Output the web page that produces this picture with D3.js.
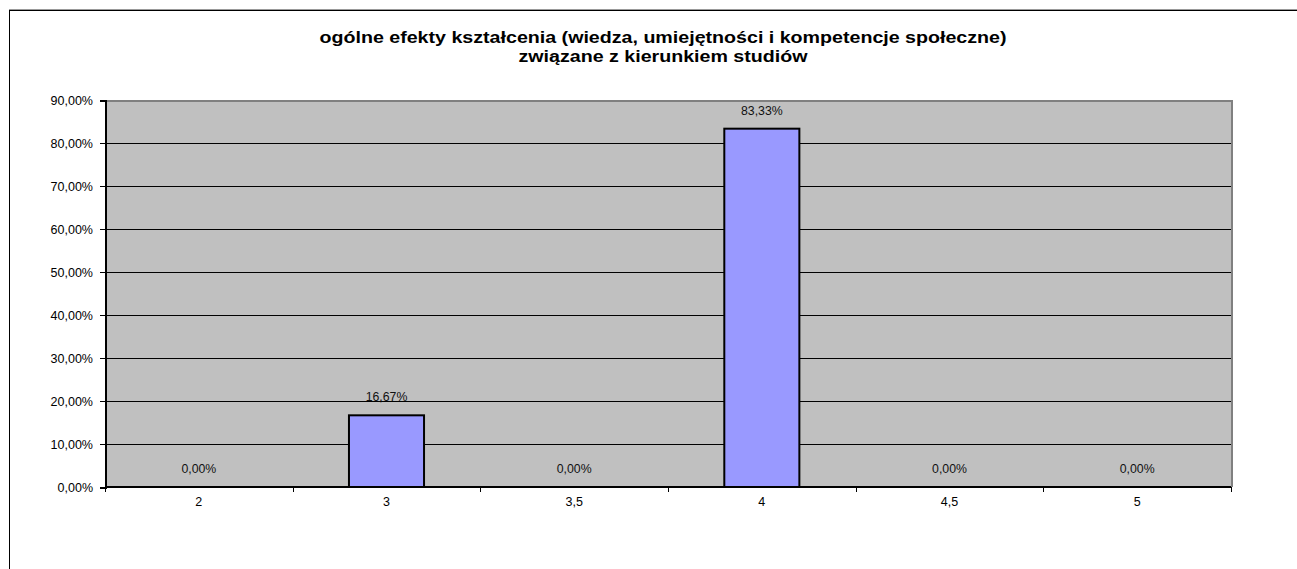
<!DOCTYPE html>
<html>
<head>
<meta charset="utf-8">
<script src="https://d3js.org/d3.v7.min.js"></script>
<style>
body { margin: 0; background: #fff; }
svg { display: block; font-family: "Liberation Sans", Arial, sans-serif; }
.axis text { font-size: 12.5px; fill: #000; }
.axis path, .axis line { stroke: #000; shape-rendering: crispEdges; }
</style>
</head>
<body>
<div id="chart"></div>
<script>
var categories = ["2", "3", "3,5", "4", "4,5", "5"];
var values = [0, 16.67, 0, 83.33, 0, 0];
var yTicks = [0, 10, 20, 30, 40, 50, 60, 70, 80, 90];
var titleLines = ["ogólne efekty kształcenia (wiedza, umiejętności i kompetencje społeczne)",
                  "związane z kierunkiem studiów"];

var width = 1297, height = 569,
    plotLeft = 105, plotRight = 1231, plotTop = 100, plotBottom = 487;

var fmt = function(v) { return v.toFixed(2).replace(".", ",") + "%"; };

var svg = d3.select("#chart").append("svg")
    .attr("width", width).attr("height", height);

// outer chart frame (only top and left edges are visible)
svg.append("path")
    .attr("d", "M9.5,569 V10.5 H1297")
    .attr("fill", "none").attr("stroke", "#000").attr("stroke-width", 1)
    .attr("shape-rendering", "crispEdges");
svg.append("line")
    .attr("x1", 9).attr("x2", 1297).attr("y1", 9.5).attr("y2", 9.5)
    .attr("stroke", "#999").attr("shape-rendering", "crispEdges");

var x = d3.scaleBand().domain(categories).range([plotLeft, plotRight]).paddingInner(0.6).paddingOuter(0.3);
var xb = d3.scaleBand().domain(categories).range([plotLeft, plotRight]);
var y = d3.scaleLinear().domain([0, 90]).range([plotBottom, plotTop]);

// plot area
svg.append("rect")
    .attr("x", plotLeft).attr("y", plotTop)
    .attr("width", plotRight - plotLeft).attr("height", plotBottom - plotTop)
    .attr("fill", "#c0c0c0");
svg.append("path")
    .attr("d", "M" + plotLeft + "," + (plotTop + 0.5) + " H" + (plotRight + 0.5) + " V" + plotBottom)
    .attr("fill", "none").attr("stroke", "#808080").attr("stroke-width", 2)
    .attr("shape-rendering", "crispEdges");

// gridlines
svg.append("g").selectAll("line")
    .data(yTicks.slice(1, -1))
    .join("line")
    .attr("x1", plotLeft).attr("x2", plotRight)
    .attr("y1", function(d) { return Math.round(y(d)) + 0.5; })
    .attr("y2", function(d) { return Math.round(y(d)) + 0.5; })
    .attr("stroke", "#000").attr("stroke-width", 1);

// bars
svg.append("g").selectAll("rect")
    .data(values)
    .join("rect")
    .attr("x", function(d, i) { return x(categories[i]); })
    .attr("width", x.bandwidth())
    .attr("y", function(d) { return y(d); })
    .attr("height", function(d) { return y(0) - y(d); })
    .attr("fill", "#9999ff")
    .attr("stroke", "#000").attr("stroke-width", 2)
    .attr("visibility", function(d) { return d > 0 ? "visible" : "hidden"; });

// data labels
svg.append("g").selectAll("text")
    .data(values)
    .join("text")
    .attr("x", function(d, i) { return xb(categories[i]) + xb.bandwidth() / 2; })
    .attr("y", function(d) { return y(d) - 14; })
    .attr("text-anchor", "middle")
    .attr("font-size", "12.3px").attr("fill", "#111")
    .text(fmt);

// y axis
var yAxis = d3.axisLeft(y).tickValues(yTicks).tickSize(5).tickFormat(fmt);
svg.append("g").attr("class", "axis")
    .attr("transform", "translate(" + plotLeft + ",0)")
    .call(yAxis)
    .call(function(g) { g.select(".domain").attr("stroke-width", 2); })
    .selectAll("text").attr("dx", "-4");

// x axis
var xAxis = d3.axisBottom(xb).tickSize(0).tickPadding(10);
var gx = svg.append("g").attr("class", "axis")
    .attr("transform", "translate(0," + plotBottom + ")")
    .call(xAxis);
gx.select(".domain").attr("d", "M" + plotLeft + ",0H" + plotRight).attr("stroke-width", 2);
gx.selectAll(".sep")
    .data(categories.concat(["end"]))
    .join("line").attr("class", "sep")
    .attr("x1", function(d, i) { return Math.round(plotLeft + i * xb.step()) + 0.5; })
    .attr("x2", function(d, i) { return Math.round(plotLeft + i * xb.step()) + 0.5; })
    .attr("y1", 0).attr("y2", 5);

// title (the source renders it wider than Liberation Sans Bold, so stretch horizontally)
svg.append("g")
    .attr("transform", "translate(663,0) scale(1.19,1)")
    .append("text")
    .attr("y", 43)
    .attr("text-anchor", "middle")
    .attr("font-size", "16.5px").attr("font-weight", "bold")
    .selectAll("tspan").data(titleLines).join("tspan")
    .attr("x", 0).attr("dy", function(d, i) { return i ? 19 : 0; })
    .text(function(d) { return d; });
</script>
</body>
</html>
